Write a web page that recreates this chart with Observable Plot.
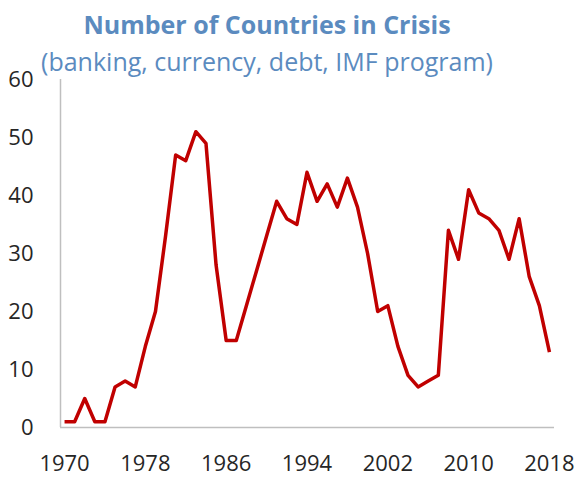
<!DOCTYPE html>
<html>
<head>
<meta charset="utf-8">
<script src="https://cdn.jsdelivr.net/npm/d3@7"></script>
<script src="https://cdn.jsdelivr.net/npm/@observablehq/plot@0.6"></script>
<style>
  html, body { margin: 0; padding: 0; background: #fff; }
  #wrap { width: 581px; font-family: "Open Sans", "Noto Sans", sans-serif; }
  #head { position: relative; height: 56px; }
  #title, #subtitle { position: absolute; left: 0; width: 534px; text-align: center; line-height: 1; color: #5b8bbf; white-space: nowrap; }
  #title { top: 12px; font-size: 25px; font-weight: 700; }
  #subtitle { top: 49px; font-size: 25px; font-weight: 400; }
  #chart { position: relative; }
</style>
</head>
<body>
<div id="wrap">
  <div id="head">
    <div id="title">Number of Countries in Crisis</div>
    <div id="subtitle">(banking, currency, debt, IMF program)</div>
  </div>
  <div id="chart"></div>
</div>
<script>
const years = d3.range(1970, 2019);
const counts = [
  1, 1, 5, 1, 1, 7, 8, 7, 14, 20,
  33, 47, 46, 51, 49, 28, 15, 15, 21, 27,
  33, 39, 36, 35, 44, 39, 42, 38, 43, 38,
  30, 20, 21, 14, 9, 7, 8, 9, 34, 29,
  41, 37, 36, 34, 29, 36, 26, 21, 13
];
const xTicks = [1970, 1978, 1986, 1994, 2002, 2010, 2018];
const yTicks = [0, 10, 20, 30, 40, 50, 60];

const data = years.map((year, i) => ({year, count: counts[i]}));
const xDomain = [1969.6, 2018.5];

const chart = Plot.plot({
  width: 581,
  height: 422,
  marginLeft: 60,
  marginRight: 27,
  marginTop: 23,
  marginBottom: 51,
  style: {fontFamily: "'Open Sans', 'Noto Sans', sans-serif", fontSize: "22px", color: "#262626", background: "transparent", overflow: "visible"},
  x: {domain: xDomain, label: null},
  y: {domain: [0, 60], label: null},
  marks: [
    Plot.axisX({ticks: xTicks, tickFormat: d => String(d), tickSize: 0, tickPadding: 28, fontSize: 22, fill: "#262626"}),
    Plot.axisY({ticks: yTicks, tickSize: 0, tickPadding: 27, fontSize: 22, fill: "#262626"}),
    Plot.ruleY([0], {stroke: "#bfbfbf", strokeWidth: 1.5}),
    Plot.ruleX([xDomain[0]], {y1: 0, y2: 60, stroke: "#bfbfbf", strokeWidth: 1.5}),
    Plot.line(data, {x: "year", y: "count", stroke: "#c00000", strokeWidth: 3.5, strokeLinejoin: "round", strokeLinecap: "butt"})
  ]
});
document.getElementById("chart").appendChild(chart);
</script>
</body>
</html>
